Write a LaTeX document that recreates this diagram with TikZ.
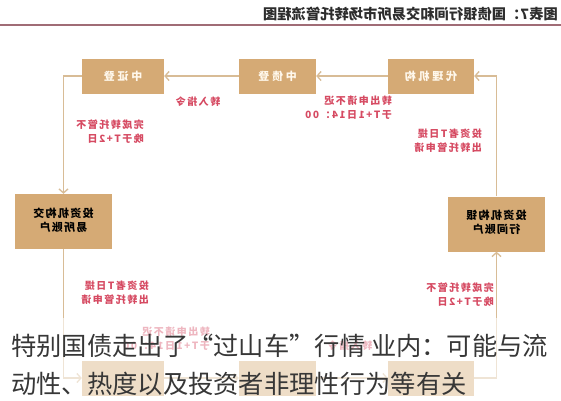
\documentclass[tikz,border=0pt]{standalone}
\usepackage{fontspec}
\usepackage{graphicx}
\usetikzlibrary{arrows.meta}
\newfontfamily\cjk{Noto Sans CJK SC}
\newfontfamily\cjkbox[LetterSpace=25]{Noto Sans CJK SC}
\newfontfamily\cjkmid[LetterSpace=12]{Noto Sans CJK SC}
\newfontfamily\cjklab[LetterSpace=15]{Noto Sans CJK SC}
\definecolor{boxtan}{RGB}{213,170,117}
\definecolor{linetan}{RGB}{216,188,150}
\definecolor{labred}{RGB}{214,74,98}
\definecolor{rulemauve}{RGB}{160,108,118}
\definecolor{titlegray}{RGB}{45,45,45}
\definecolor{capgray}{RGB}{55,55,55}
\definecolor{boxwhite}{RGB}{255,248,236}
\newcommand\mirtwo[3]{\reflectbox{\begin{tabular}{@{}#1@{}}#2\\#3\end{tabular}}}
\begin{document}
\begin{tikzpicture}[x=1pt,y=-1pt,
  topbox/.style={fill=boxtan,draw=none,minimum height=35pt,inner sep=0pt,
    text=boxwhite,font=\cjkbox\bfseries\fontsize{11}{13}\selectfont},
  midbox/.style={fill=boxtan,draw=none,minimum width=97pt,minimum height=55pt,inner sep=0pt,
    text=black,font=\cjkmid\bfseries\fontsize{11}{14}\selectfont},
  lab/.style={inner sep=0pt,text=labred,font=\cjklab\bfseries\fontsize{10}{14}\selectfont},
  conn/.style={draw=linetan,line width=1.5pt,-{Straight Barb[length=4pt,width=9pt,line width=1.3pt]}},
  captext/.style={inner sep=0pt,anchor=base west,text=capgray,font=\cjk\fontsize{25.3}{30}\selectfont}]
\useasboundingbox (0,0) rectangle (561,400);
\fill[white] (0,0) rectangle (561,400);
% title
\node[anchor=east,inner sep=0pt,text=titlegray,font=\cjk\bfseries\fontsize{14.3}{16}\selectfont] (title) at (558,14)
  {\reflectbox{图表7：国债银行间和交易所市场转托管流程图}};
\coordinate (ruleL) at (0,25);
\coordinate (ruleR) at (561,25);
\draw[rulemauve,line width=2.5pt] (ruleL) -- (ruleR);
% top boxes
\node[topbox,minimum width=82pt] (A) at (123,76) {\reflectbox{中证登}};
\node[topbox,minimum width=77pt] (B) at (277.5,76) {\reflectbox{中债登}};
\node[topbox,minimum width=86pt] (C) at (431,76) {\reflectbox{代理机构}};
% middle boxes
\node[midbox] (D) at (63.5,221.5) {\mirtwo{c}{投资机构交}{易所账户}};
\node[midbox] (E) at (496.5,224) {\mirtwo{c}{投资机构银}{行间账户}};
% bottom boxes
\node[topbox,minimum width=82pt] (F) at (123,378) {};
\node[topbox,minimum width=77pt] (G) at (277.5,378) {};
\node[topbox,minimum width=86pt] (H) at (431,378) {};
% connectors
\draw[conn] (C.west) -- (B.east);
\draw[conn] (B.west) -- (A.east);
\draw[conn] (E.north) |- (C.east);
\draw[conn] (A.west) -| (D.north);
\draw[conn] (D.south) |- (F.west);
\draw[conn] (F.east) -- (G.west);
\draw[conn] (G.east) -- (H.west);
\draw[conn] (H.east) -| (E.south);
% labels
\node[lab] (L1) at (198,102) {\reflectbox{转入指令}};
\node[lab,anchor=east] (L2) at (392,108.5) {\mirtwo{l}{转出申请不迟}{于T+1日14：00}};
\node[lab,anchor=east] (L3) at (482,141.5) {\mirtwo{l}{投资者T日提}{出转托管申请}};
\node[lab,anchor=east] (L4) at (144,133) {\mirtwo{l}{完成转托管不}{晚于T+2日}};
\node[lab,anchor=east] (L5) at (149,293.5) {\mirtwo{l}{投资者T日提}{出转托管申请}};
\node[lab,anchor=east] (L6) at (494,295.5) {\mirtwo{l}{完成转托管不}{晚于T+2日}};
\node[lab,anchor=east] (L7) at (210,339.5) {\mirtwo{l}{转出申请不迟}{于T+1日14：00}};
\node[lab] (L8) at (350,346) {\reflectbox{转入指令}};
% overlay
\fill[white,opacity=0.6] (0,318) rectangle (561,400);
% caption
\node[captext] (cap1) at (11,355) {特别国债走出了“过山车”行情 业内：可能与流};
\node[captext] (cap2) at (11,393) {动性、热度以及投资者非理性行为等有关};
\end{tikzpicture}
\end{document}
